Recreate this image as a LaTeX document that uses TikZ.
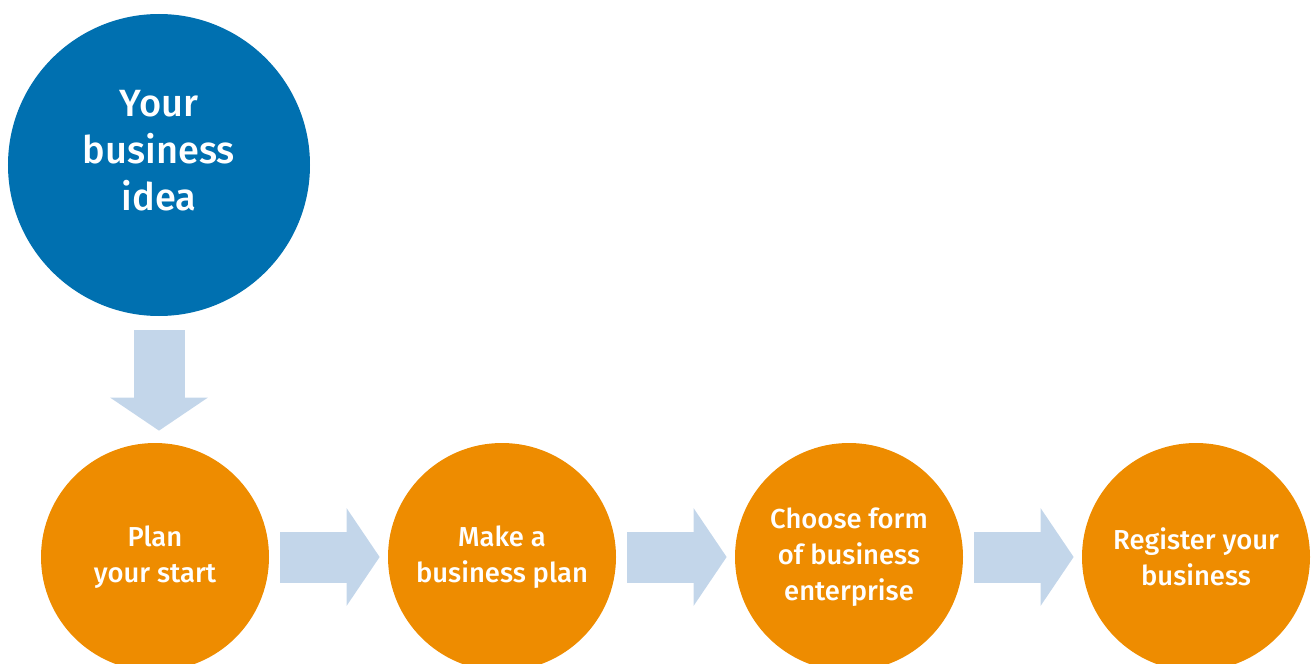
\documentclass[tikz,border=0pt]{standalone}
\usepackage{fontspec}
\setmainfont{Fira Sans}[BoldFont={Fira Sans Medium}]
\usetikzlibrary{arrows.meta,positioning}
\definecolor{ideablue}{HTML}{0070B0}
\definecolor{steporange}{HTML}{EE8C00}
\definecolor{arrowblue}{HTML}{C3D6EA}
\begin{document}
\begin{tikzpicture}[align=center,node distance=6.94cm]
\tikzstyle{idea}=[circle,fill=ideablue,minimum size=6.04cm,inner sep=0pt]
\tikzstyle{ideatext}=[text=white,font=\bfseries\fontsize{21.6}{26.7}\selectfont]
\tikzstyle{stage}=[circle,fill=steporange,text=white,minimum size=4.56cm,inner sep=0pt,font=\bfseries\fontsize{15.6}{20.4}\selectfont]
\tikzstyle{bigarrow}=[draw=arrowblue,line width=1.02cm,-{Triangle[length=0.66cm,width=1.92cm]}]

\useasboundingbox (0,0) rectangle (26.26,-13.28);

\node[idea] (idea) at (3.18,-3.3) {};
\node[ideatext] (ideacontent) at ([yshift=0.28cm]idea.center) {Your\\business\\idea};
\node[stage] (plan) at (3.1,-11.14) {Plan\\your start};
\node[stage] (bplan) [right of = plan] {Make a\\business plan};
\node[stage] (form) [right of = bplan] {Choose form\\of business\\enterprise};
\node[stage] (register) [right of = form] {Register your\\business};

\draw[bigarrow,shorten <=0.28cm,shorten >=0.24cm] (idea.south) -- (idea.south |- plan.north);
\draw[bigarrow,shorten <=0.22cm,shorten >=0.16cm] (plan) -- (bplan);
\draw[bigarrow,shorten <=0.22cm,shorten >=0.16cm] (bplan) -- (form);
\draw[bigarrow,shorten <=0.22cm,shorten >=0.16cm] (form) -- (register);
\end{tikzpicture}
\end{document}
